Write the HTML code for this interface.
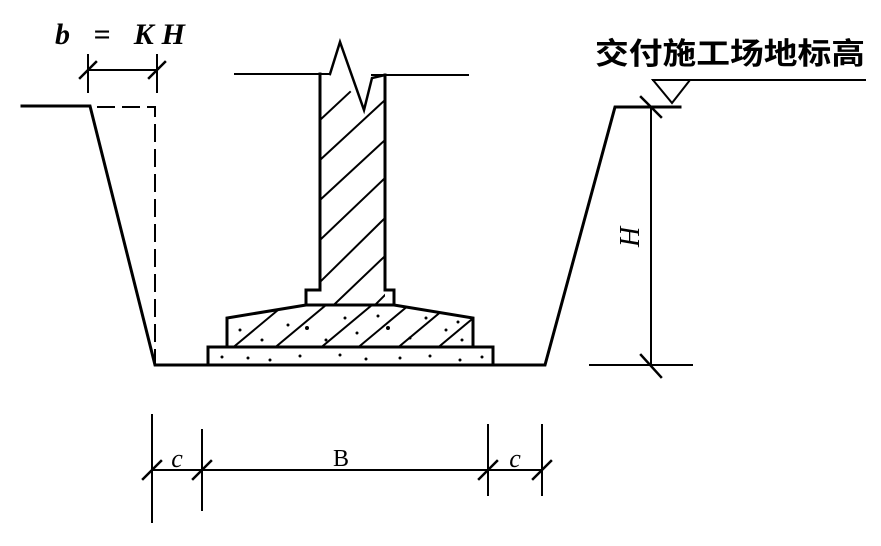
<!DOCTYPE html>
<html><head><meta charset="utf-8"><style>
html,body{margin:0;padding:0;background:#fff;}
svg{display:block}
</style></head><body>
<svg width="881" height="546" viewBox="0 0 881 546" xmlns="http://www.w3.org/2000/svg">
<defs>
<clipPath id="col"><rect x="320" y="74" width="65" height="232"/></clipPath>
<clipPath id="foot"><polygon points="306,305 394,305 473,318 473,347 227,347 227,318"/></clipPath>
</defs>
<g stroke="#000" fill="none" stroke-linecap="square">
<polyline points="22,106 90,106 155,365 545,365 615,107 680,107" stroke-width="3"/>
<polyline points="98,107 155,107 155,362" stroke-width="2" stroke-dasharray="16,9"/>
<line x1="88" y1="55" x2="88" y2="92" stroke-width="2"/>
<line x1="157" y1="55" x2="157" y2="92" stroke-width="2"/>
<line x1="88" y1="70" x2="157" y2="70" stroke-width="2"/>
<line x1="80" y1="78" x2="96" y2="62" stroke-width="2.5"/>
<line x1="149" y1="78" x2="165" y2="62" stroke-width="2.5"/>
<line x1="235" y1="74" x2="330" y2="74" stroke-width="2"/>
<line x1="372" y1="75" x2="468" y2="75" stroke-width="2"/>
<polyline points="320,74 320,290 306,290 306,305" stroke-width="3"/>
<polyline points="385,75 385,290 394,290 394,305" stroke-width="3"/>
<polyline points="330,74 340,42 364,110 372,78 385,75" stroke-width="2.5"/>
<g clip-path="url(#col)" stroke-width="2">
<line x1="320" y1="120" x2="350" y2="92"/>
<line x1="320" y1="160" x2="385" y2="100"/>
<line x1="320" y1="200" x2="385" y2="140"/>
<line x1="320" y1="240" x2="385" y2="178"/>
<line x1="320" y1="282" x2="385" y2="218"/>
<line x1="318" y1="320" x2="385" y2="256"/>
<line x1="360" y1="320" x2="390" y2="290"/>
</g>
<polygon points="306,305 394,305 473,318 473,347 227,347 227,318" stroke-width="3"/>
<g clip-path="url(#foot)" stroke-width="2">
<line x1="230" y1="350" x2="290" y2="300"/>
<line x1="272" y1="350" x2="332" y2="300"/>
<line x1="318" y1="350" x2="378" y2="300"/>
<line x1="355" y1="350" x2="415" y2="300"/>
<line x1="395" y1="350" x2="455" y2="300"/>
<line x1="435" y1="350" x2="495" y2="300"/>
</g>
<rect x="208" y="347" width="285" height="18" stroke-width="3"/>
<line x1="651" y1="107" x2="651" y2="365" stroke-width="2"/>
<line x1="590" y1="365" x2="692" y2="365" stroke-width="2"/>
<line x1="641" y1="97" x2="661" y2="117" stroke-width="2.5"/>
<line x1="641" y1="355" x2="661" y2="377" stroke-width="2.5"/>
<polyline points="653,80 865,80" stroke-width="2"/>
<polygon points="653,80 690,80 672,103" stroke-width="2"/>
<line x1="152" y1="415" x2="152" y2="522" stroke-width="2"/>
<line x1="202" y1="430" x2="202" y2="510" stroke-width="2"/>
<line x1="488" y1="425" x2="488" y2="495" stroke-width="2"/>
<line x1="542" y1="425" x2="542" y2="495" stroke-width="2"/>
<line x1="152" y1="470" x2="542" y2="470" stroke-width="2"/>
<line x1="143" y1="479" x2="161" y2="461" stroke-width="2.5"/>
<line x1="193" y1="479" x2="211" y2="461" stroke-width="2.5"/>
<line x1="479" y1="479" x2="497" y2="461" stroke-width="2.5"/>
<line x1="533" y1="479" x2="551" y2="461" stroke-width="2.5"/>
</g>
<g fill="#000">
<circle cx="240" cy="330" r="1.5"/><circle cx="262" cy="340" r="1.5"/><circle cx="288" cy="325" r="1.5"/><circle cx="307" cy="328" r="2"/><circle cx="326" cy="340" r="1.5"/><circle cx="345" cy="318" r="1.5"/><circle cx="357" cy="333" r="1.5"/><circle cx="378" cy="316" r="1.5"/><circle cx="388" cy="328" r="2"/><circle cx="410" cy="338" r="1.5"/><circle cx="426" cy="318" r="1.5"/><circle cx="446" cy="330" r="1.5"/><circle cx="462" cy="340" r="1.5"/><circle cx="458" cy="322" r="1.5"/>
<circle cx="222" cy="357" r="1.5"/><circle cx="248" cy="358" r="1.5"/><circle cx="270" cy="360" r="1.5"/><circle cx="300" cy="356" r="1.5"/><circle cx="340" cy="355" r="1.5"/><circle cx="366" cy="359" r="1.5"/><circle cx="400" cy="358" r="1.5"/><circle cx="430" cy="356" r="1.5"/><circle cx="460" cy="360" r="1.5"/><circle cx="482" cy="357" r="1.5"/>
</g>
<text x="55" y="44" font-family="Liberation Serif, serif" font-style="italic" font-weight="bold" font-size="30" textLength="130" lengthAdjust="spacing">b = KH</text>
<text x="595" y="64" font-family="Liberation Sans, Noto Sans CJK SC, sans-serif" font-weight="bold" font-size="30" textLength="270" lengthAdjust="spacingAndGlyphs">交付施工场地标高</text>
<text transform="translate(620,236) rotate(90)" font-family="Liberation Serif, serif" font-style="italic" font-size="28" text-anchor="middle">H</text>
<text x="177" y="467" font-family="Liberation Serif, serif" font-style="italic" font-size="26" text-anchor="middle">c</text>
<text x="515" y="467" font-family="Liberation Serif, serif" font-style="italic" font-size="26" text-anchor="middle">c</text>
<text x="341" y="466" font-family="Liberation Serif, serif" font-size="24" text-anchor="middle">B</text>
</svg>
</body></html>
